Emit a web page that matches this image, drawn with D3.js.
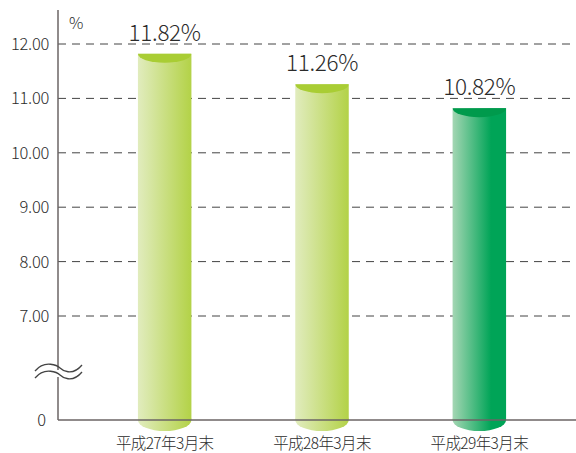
<!DOCTYPE html>
<html><head><meta charset="utf-8">
<script src="https://cdn.jsdelivr.net/npm/d3@7"></script>
<style>body{margin:0;background:#fff}svg{display:block}text{font-family:"Noto Sans CJK JP","Open Sans",sans-serif;fill:#2b2b2b}</style>
</head><body>
<script>
const categories = ["平成27年3月末","平成28年3月末","平成29年3月末"];
const values = [11.82, 11.26, 10.82];
const labels = ["11.82%","11.26%","10.82%"];
const tickValues = [7, 8, 9, 10, 11, 12];
const tickLabels = ["7.00","8.00","9.00","10.00","11.00","12.00"];

const W = 576, H = 453;
const svg = d3.select("body").append("svg").attr("width", W).attr("height", H);
const axisX = 58, baseY = 420;
const y = d3.scaleLinear().domain([0, 7, 12]).range([baseY, 316, 44]);
const x = d3.scaleBand().domain(categories).range([86, 558]).paddingInner(0.66).paddingOuter(0.33);

const defs = svg.append("defs");
const pal = [
  {stops:[["0%","#e1ecbe"],["100%","#b3d247"]], top:"#a9cd34"},
  {stops:[["0%","#e1ecbe"],["100%","#b3d247"]], top:"#a9cd34"},
  {stops:[["0%","#a4d6b3"],["72%","#00a457"],["100%","#00a457"]], top:"#009a4c"}
];
pal.forEach((p,i)=>{
  const g = defs.append("linearGradient").attr("id","g"+i).attr("x1","0").attr("x2","1").attr("y1","0").attr("y2","0");
  p.stops.forEach(s=>g.append("stop").attr("offset",s[0]).attr("stop-color",s[1]));
});

// gridlines
svg.append("g").selectAll("line").data(tickValues).join("line")
  .attr("x1", axisX).attr("x2", W).attr("y1", d=>y(d)).attr("y2", d=>y(d))
  .attr("stroke","#444").attr("stroke-width",1).attr("stroke-dasharray","8,6");

// tick labels
svg.append("g").selectAll("text").data(tickValues).join("text")
  .attr("x", 49).attr("y", d=>y(d)+6).attr("text-anchor","end")
  .attr("font-size",16.5).attr("font-weight",300).attr("letter-spacing",-0.3).text((d,i)=>tickLabels[i]);
svg.append("text").attr("x",46).attr("y",y(0)+6).attr("text-anchor","end").attr("font-size",16.5).attr("font-weight",300).text("0");
svg.append("text").attr("x",69).attr("y",29).attr("font-size",16).attr("font-weight",300).text("%");

// bars
const bw = x.bandwidth(), ry = 10;
const bars = svg.append("g").selectAll("g").data(values).join("g");
bars.each(function(v,i){
  const g = d3.select(this);
  const x0 = x(categories[i]), cx = x0 + bw/2, top = y(v);
  const cp = defs.append("clipPath").attr("id","c"+i);
  cp.append("rect").attr("x",x0).attr("y",top).attr("width",bw).attr("height",baseY-top+ry+2);
  g.append("rect").attr("x",x0).attr("y",top).attr("width",bw).attr("height",baseY-top).attr("fill","url(#g"+i+")");
  g.append("ellipse").attr("cx",cx).attr("cy",baseY).attr("rx",bw/2).attr("ry",ry+1).attr("fill","url(#g"+i+")");
  g.append("ellipse").attr("cx",cx).attr("cy",top).attr("rx",bw/2).attr("ry",ry-1).attr("fill",pal[i].top).attr("clip-path","url(#c"+i+")");
  g.append("text").attr("x",cx).attr("y",top-13).attr("text-anchor","middle").attr("font-size",22.5).attr("font-weight",300).attr("letter-spacing",-0.3).text(labels[i]);
});

// axes
svg.append("line").attr("x1",axisX).attr("x2",axisX).attr("y1",10).attr("y2",baseY).attr("stroke","#6b6464").attr("stroke-width",1.5);
svg.append("line").attr("x1",axisX).attr("x2",W).attr("y1",baseY).attr("y2",baseY).attr("stroke","#6b6464").attr("stroke-width",1.5);

// break squiggle
const wave = (yc)=>`M35,${yc+3} C45,${yc-9} 58,${yc-2} 60,${yc} S72,${yc+9} 82,${yc-3}`;
svg.append("path").attr("d",`M33,370 L84,370 L84,377 L33,377 Z`).attr("fill","#fff");
svg.append("path").attr("d",wave(368)).attr("fill","none").attr("stroke","#444").attr("stroke-width",1.3);
svg.append("path").attr("d",wave(375)).attr("fill","none").attr("stroke","#444").attr("stroke-width",1.3);

// category labels
svg.append("g").selectAll("text").data(categories).join("text")
  .attr("x", d=>x(d)+bw/2).attr("y",449).attr("text-anchor","middle").attr("font-size",15.5).attr("font-weight",300).attr("letter-spacing",-0.6).text(d=>d);
</script>
</body></html>
